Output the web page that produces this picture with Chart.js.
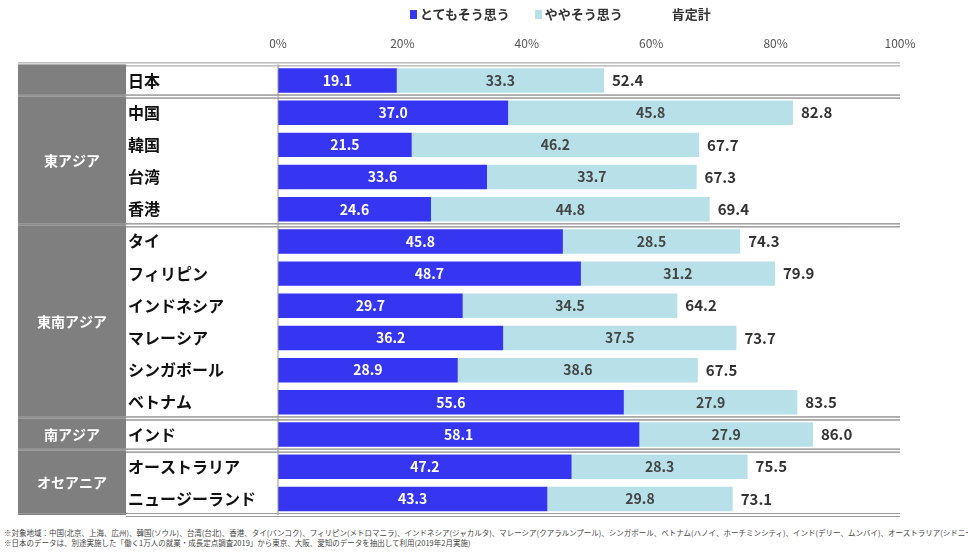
<!DOCTYPE html>
<html lang="ja">
<head>
<meta charset="UTF-8" />
<script src="https://cdn.jsdelivr.net/npm/chart.js@4.4.1/dist/chart.umd.min.js"></script>
<title>肯定計</title>
<style>
  body { margin: 0; background: #fff; font-family: "Noto Sans CJK JP", sans-serif; }
  #wrap { position: relative; width: 968px; height: 557px; }
  #legend { position: absolute; top: 4px; left: 410px; font-size: 13px; font-weight: bold; color: #333; }
  #legend span { margin-right: 22px; }
  .box { display: inline-block; width: 7px; height: 9px; margin-right: 3px; }
  #notes { position: absolute; top: 528px; left: 4px; font-size: 7.5px; color: #444; line-height: 10px; white-space: nowrap; }
</style>
</head>
<body>
<div id="wrap">
  <div id="legend">
    <span><i class="box" style="background:#3535f2"></i>とてもそう思う</span>
    <span><i class="box" style="background:#b7e0e8"></i>ややそう思う</span>
    <span style="margin-left:24px">肯定計</span>
  </div>
  <canvas id="chart" width="968" height="525"></canvas>
  <div id="notes">
    ※対象地域：中国(北京、上海、広州)、韓国(ソウル)、台湾(台北)、香港、タイ(バンコク)、フィリピン(メトロマニラ)、インドネシア(ジャカルタ)、マレーシア(クアラルンプール)、シンガポール、ベトナム(ハノイ、ホーチミンシティ)、インド(デリー、ムンバイ)、オーストラリア(シドニー、メルボルン)、ニュージーランド<br>
    ※日本のデータは、別途実施した「働く1万人の就業・成長定点調査2019」から東京、大阪、愛知のデータを抽出して利用(2019年2月実施)
  </div>
</div>
<script>
const categories = ["日本", "中国", "韓国", "台湾", "香港", "タイ", "フィリピン", "インドネシア", "マレーシア", "シンガポール", "ベトナム", "インド", "オーストラリア", "ニュージーランド"];
const strongly = [19.1, 37.0, 21.5, 33.6, 24.6, 45.8, 48.7, 29.7, 36.2, 28.9, 55.6, 58.1, 47.2, 43.3];
const somewhat = [33.3, 45.8, 46.2, 33.7, 44.8, 28.5, 31.2, 34.5, 37.5, 38.6, 27.9, 27.9, 28.3, 29.8];
const totals = [52.4, 82.8, 67.7, 67.3, 69.4, 74.3, 79.9, 64.2, 73.7, 67.5, 83.5, 86.0, 75.5, 73.1];
const regions = [
  { name: "", from: 0, to: 0 },
  { name: "東アジア", from: 1, to: 4 },
  { name: "東南アジア", from: 5, to: 10 },
  { name: "南アジア", from: 11, to: 11 },
  { name: "オセアニア", from: 12, to: 13 }
];
const FONT = '"Noto Sans CJK JP", sans-serif';

const tablePlugin = {
  id: "table",
  afterDatasetsDraw(chart) {
    const { ctx, chartArea } = chart;
    const y = chart.scales.y, x = chart.scales.x;
    const half = (y.getPixelForValue(1) - y.getPixelForValue(0)) / 2;
    ctx.save();
    // region column
    regions.forEach(r => {
      const top = y.getPixelForValue(r.from) - half;
      const bot = y.getPixelForValue(r.to) + half;
      ctx.fillStyle = "#7f7f7f";
      ctx.fillRect(18, top, 108, bot - top);
      ctx.fillStyle = "#fff";
      ctx.font = "bold 14px " + FONT;
      ctx.textAlign = "center";
      ctx.textBaseline = "middle";
      ctx.fillText(r.name, 72, (top + bot) / 2);
      // separator lines
      [top, bot].forEach(py => {
        ctx.strokeStyle = "#999";
        ctx.lineWidth = 1;
        ctx.beginPath(); ctx.moveTo(18, py - 1.5); ctx.lineTo(chartArea.right, py - 1.5); ctx.stroke();
        ctx.beginPath(); ctx.moveTo(126, py + 1.5); ctx.lineTo(chartArea.right, py + 1.5); ctx.stroke();
      });
    });
    // zero line
    ctx.strokeStyle = "#999";
    ctx.beginPath(); ctx.moveTo(chartArea.left, chartArea.top); ctx.lineTo(chartArea.left, chartArea.bottom); ctx.stroke();
    // value labels
    ctx.font = "bold 14px " + FONT;
    ctx.textBaseline = "middle";
    ctx.textAlign = "center";
    categories.forEach((c, i) => {
      const py = y.getPixelForValue(i);
      ctx.fillStyle = "#fff";
      ctx.fillText(strongly[i].toFixed(1), x.getPixelForValue(strongly[i] / 2), py);
      ctx.fillStyle = "#444";
      ctx.fillText(somewhat[i].toFixed(1), x.getPixelForValue(strongly[i] + somewhat[i] / 2), py);
      ctx.textAlign = "left";
      ctx.fillStyle = "#333";
      ctx.font = "bold 15px " + FONT;
      ctx.fillText(totals[i].toFixed(1), x.getPixelForValue(totals[i]) + 8, py);
      ctx.font = "bold 14px " + FONT;
      ctx.textAlign = "center";
    });
    ctx.restore();
  }
};

new Chart(document.getElementById("chart"), {
  type: "bar",
  data: {
    labels: categories,
    datasets: [
      { label: "とてもそう思う", data: strongly, backgroundColor: "#3535f2", stack: "s" },
      { label: "ややそう思う", data: somewhat, backgroundColor: "#b7e0e8", stack: "s" }
    ]
  },
  options: {
    indexAxis: "y",
    responsive: false,
    animation: false,
    layout: { padding: { left: 128, right: 68, top: 30, bottom: 10 } },
    plugins: { legend: { display: false }, tooltip: { enabled: false } },
    datasets: { bar: { categoryPercentage: 0.76, barPercentage: 1 } },
    scales: {
      x: {
        position: "top",
        stacked: true,
        min: 0, max: 100,
        grid: { display: false },
        border: { display: false },
        ticks: { stepSize: 20, callback: v => v + "%", color: "#555", font: { family: FONT, size: 12 }, padding: 6 }
      },
      y: {
        stacked: true,
        grid: { display: false },
        border: { display: false },
        afterFit: s => { s.width = 150; },
        ticks: { crossAlign: "far", color: "#111", font: { family: FONT, size: 16, weight: "bold" }, padding: 0 }
      }
    }
  },
  plugins: [tablePlugin]
});
</script>
</body>
</html>
